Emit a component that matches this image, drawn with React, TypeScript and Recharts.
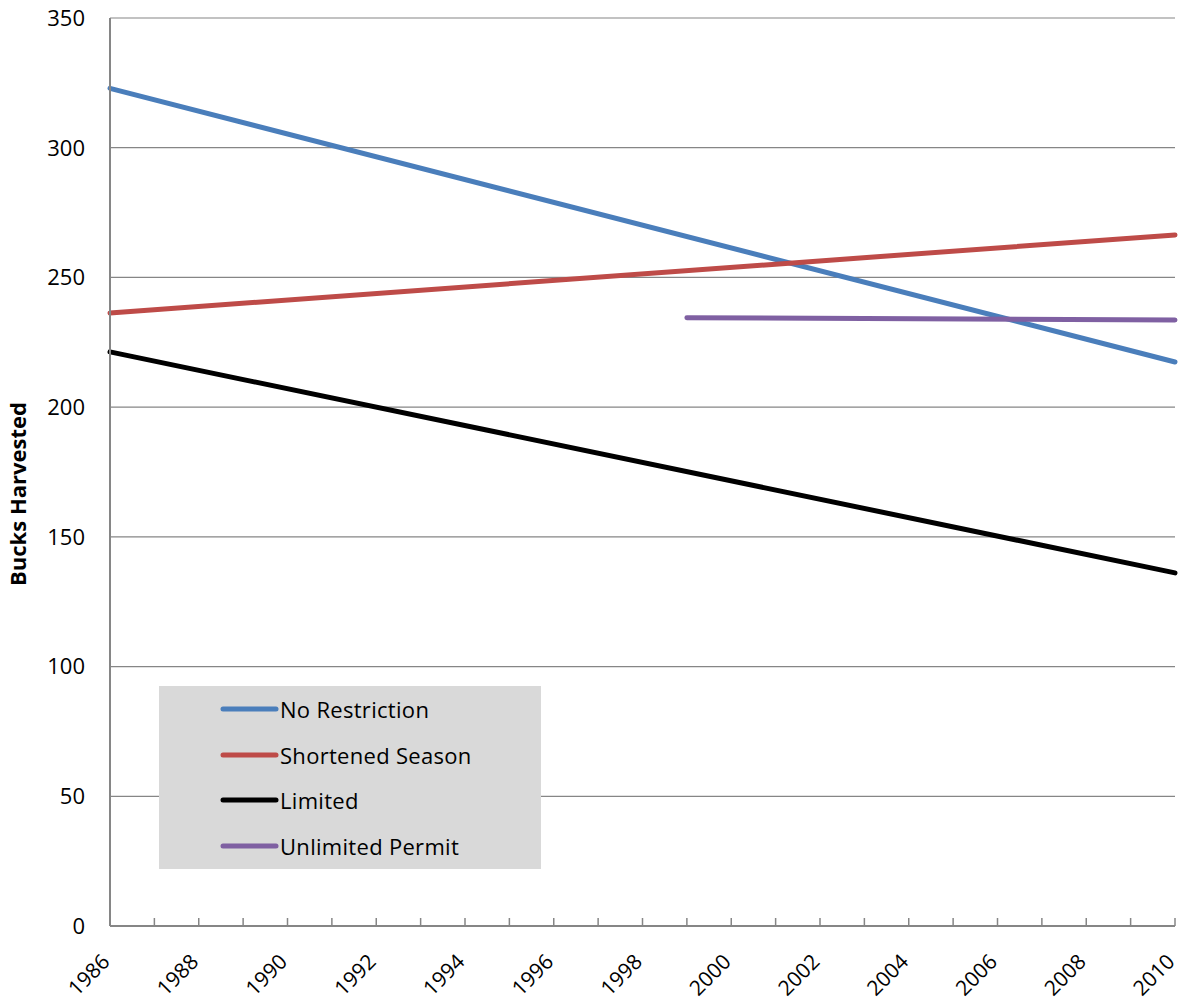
import { LineChart, Line, XAxis, YAxis, CartesianGrid } from 'recharts';

// Categories
const years = [
  1986, 1987, 1988, 1989, 1990, 1991, 1992, 1993, 1994, 1995, 1996, 1997, 1998,
  1999, 2000, 2001, 2002, 2003, 2004, 2005, 2006, 2007, 2008, 2009, 2010,
];

// Trend line end points (missing year = no value)
const noRestriction: { [year: number]: number } = { 1986: 322.9, 2010: 217.4 };
const shortenedSeason: { [year: number]: number } = { 1986: 236.3, 2010: 266.4 };
const limited: { [year: number]: number } = { 1986: 221.3, 2010: 136.1 };
const unlimitedPermit: { [year: number]: number } = { 1999: 234.5, 2010: 233.6 };

const yTicks = [0, 50, 100, 150, 200, 250, 300, 350];

const series = [
  { key: 'noRestriction', name: 'No Restriction', color: '#4a7ebb' },
  { key: 'shortenedSeason', name: 'Shortened Season', color: '#be4b48' },
  { key: 'limited', name: 'Limited', color: '#000000' },
  { key: 'unlimitedPermit', name: 'Unlimited Permit', color: '#7f60a2' },
];

const data = years.map((year) => ({
  year,
  noRestriction: noRestriction[year] ?? null,
  shortenedSeason: shortenedSeason[year] ?? null,
  limited: limited[year] ?? null,
  unlimitedPermit: unlimitedPermit[year] ?? null,
}));

const FONT = '"Open Sans", "Liberation Sans", sans-serif';
const AXIS_GREY = '#868686';

const YearTick = (props: any) => {
  const { x, y, payload } = props;
  const year = payload.value as number;
  const ax = x + 1;
  const ay = y + 37;
  return (
    <g>
      <line x1={x} x2={x} y1={y - 8} y2={y} stroke={AXIS_GREY} strokeWidth={1.5} />
      {year % 2 === 0 && (
        <text
          x={ax}
          y={ay}
          textAnchor="end"
          fontSize={21}
          fontFamily={FONT}
          fill="#000"
          transform={`rotate(-45, ${ax}, ${ay})`}
        >
          {year}
        </text>
      )}
    </g>
  );
};

const LegendBox = () => (
  <div
    style={{
      position: 'absolute',
      left: 159,
      top: 686,
      width: 382,
      height: 183,
      background: '#d9d9d9',
      fontFamily: FONT,
      fontSize: 22,
      letterSpacing: 0.3,
      color: '#000',
    }}
  >
    {series.map((s, i) => (
      <div
        key={s.key}
        style={{
          position: 'absolute',
          left: 61,
          top: 23 + i * 45.6 - 15,
          height: 30,
          display: 'flex',
          alignItems: 'center',
          whiteSpace: 'nowrap',
        }}
      >
        <svg width={59} height={8} style={{ display: 'block' }}>
          <line x1={3} x2={56} y1={4} y2={4} stroke={s.color} strokeWidth={5} strokeLinecap="round" />
        </svg>
        <span style={{ marginLeft: 1 }}>{s.name}</span>
      </div>
    ))}
  </div>
);

export default function App() {
  return (
    <div style={{ position: 'absolute', left: 0, top: 0, width: 1183, height: 1001, background: '#fff' }}>
      <LineChart
        width={1183}
        height={1001}
        data={data}
        margin={{ top: 18, right: 8, left: 50, bottom: 10 }}
      >
        <CartesianGrid vertical={false} stroke={AXIS_GREY} strokeWidth={1.2} />
        <XAxis
          dataKey="year"
          type="category"
          interval={0}
          height={65}
          tickLine={false}
          tickSize={0}
          tickMargin={0}
          axisLine={{ stroke: AXIS_GREY, strokeWidth: 2 }}
          tick={<YearTick />}
        />
        <YAxis
          domain={[0, 350]}
          ticks={yTicks}
          width={60}
          tickLine={false}
          tickSize={0}
          tickMargin={25}
          axisLine={{ stroke: AXIS_GREY, strokeWidth: 2 }}
          tick={{ fontSize: 22, fontFamily: FONT, fill: '#000' }}
          label={{
            content: () => (
              <text
                x={26}
                y={494}
                textAnchor="middle"
                fontSize={22}
                fontWeight="bold"
                fontFamily={FONT}
                fill="#000"
                transform="rotate(-90, 26, 494)"
              >
                Bucks Harvested
              </text>
            ),
          }}
        />
        {series.map((s) => (
          <Line
            key={s.key}
            dataKey={s.key}
            name={s.name}
            stroke={s.color}
            strokeWidth={5}
            strokeLinecap="round"
            dot={false}
            activeDot={false}
            connectNulls
            isAnimationActive={false}
          />
        ))}
      </LineChart>
      <LegendBox />
    </div>
  );
}
